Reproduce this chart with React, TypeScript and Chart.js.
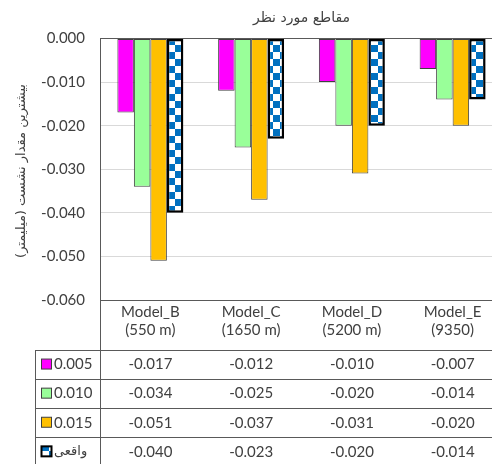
import React, { useEffect, useRef } from "react";
import { Chart, registerables } from "chart.js";

Chart.register(...registerables);

const chartTitle = "مقاطع مورد نظر";
const yAxisTitle = "بیشترین مقدار نشست (میلیمتر)\u200F";
const categories = [
  ["Model_B", "(550 m)"],
  ["Model_C", "(1650 m)"],
  ["Model_D", "(5200 m)"],
  ["Model_E", "(9350)"],
];
const seriesNames = ["0.005", "0.010", "0.015", "واقعی"];
const s005 = [-0.017, -0.012, -0.01, -0.007];
const s010 = [-0.034, -0.025, -0.02, -0.014];
const s015 = [-0.051, -0.037, -0.031, -0.02];
const sReal = [-0.04, -0.023, -0.02, -0.014];
const yMin = -0.06;
const yMax = 0;
const yStep = 0.01;

const FONT = "Lato, 'DejaVu Sans', sans-serif";
const PFONT = "'DejaVu Sans', sans-serif";

function makeChecker(): CanvasPattern | string {
  const cell = 7;
  const c = document.createElement("canvas");
  c.width = cell * 2;
  c.height = cell * 2;
  const g = c.getContext("2d");
  if (!g) return "#0070C0";
  g.fillStyle = "#ffffff";
  g.fillRect(0, 0, cell * 2, cell * 2);
  g.fillStyle = "#0070C0";
  g.fillRect(0, 0, cell, cell);
  g.fillRect(cell, cell, cell, cell);
  const p = g.createPattern(c, "repeat");
  if (p && typeof DOMMatrix !== "undefined") {
    try {
      p.setTransform(new DOMMatrix().translate(0, 38));
    } catch (e) {}
  }
  return p || "#0070C0";
}

export default function App() {
  const ref = useRef<HTMLCanvasElement | null>(null);

  useEffect(() => {
    const canvas = ref.current;
    if (!canvas) return;
    const checker = makeChecker();
    const fills: any[] = ["#FF00FF", "#99FF99", "#FFC000", checker];
    const borders = ["#404040", "#404040", "#404040", "#000000"];
    const bw = [1, 1, 1, 2.5];
    const seriesData = [s005, s010, s015, sReal];

    const tablePlugin = {
      id: "extras",
      afterDraw(chart: any) {
        const ctx = chart.ctx as CanvasRenderingContext2D;
        const area = chart.chartArea;
        const xs = chart.scales.x;
        const W = chart.width;
        const H = chart.height;
        ctx.save();
        // title
        ctx.fillStyle = "#404040";
        ctx.font = `14px ${PFONT}`;
        ctx.textAlign = "center";
        ctx.textBaseline = "middle";
        (ctx as any).direction = "rtl";
        ctx.fillText(chartTitle, (area.left + area.right) / 2, 18);
        // y title
        ctx.save();
        ctx.translate(22, 171);
        ctx.rotate(-Math.PI / 2);
        ctx.font = `13px ${PFONT}`;
        ctx.fillStyle = "#404040";
        ctx.fillText(yAxisTitle, 0, 0);
        ctx.restore();
        (ctx as any).direction = "ltr";

        // table
        const tableTop = xs.bottom;
        const rowH = (H - tableTop) / 4 + 0.6;
        const legendLeft = 35.5;
        ctx.strokeStyle = "#595959";
        ctx.lineWidth = 1;
        ctx.beginPath();
        for (let r = 0; r < 4; r++) {
          const y = Math.round(tableTop + r * rowH) + 0.5;
          ctx.moveTo(legendLeft, y);
          ctx.lineTo(W, y);
        }
        ctx.moveTo(legendLeft, tableTop);
        ctx.lineTo(legendLeft, H);
        ctx.moveTo(area.left + 0.5, area.bottom);
        ctx.lineTo(area.left + 0.5, H);
        ctx.stroke();

        ctx.font = `15px ${FONT}`;
        ctx.textBaseline = "middle";
        for (let r = 0; r < 4; r++) {
          const cy = tableTop + r * rowH + rowH / 2;
          // legend key
          ctx.fillStyle = fills[r];
          ctx.fillRect(41.5, cy - 5.5, 10, 10);
          ctx.strokeStyle = borders[r];
          ctx.lineWidth = r === 3 ? 2 : 1;
          ctx.strokeRect(41.5, cy - 5.5, 10, 10);
          ctx.fillStyle = "#404040";
          ctx.textAlign = "left";
          if (r === 3) {
            ctx.font = `13px ${PFONT}`;
            ctx.fillText(seriesNames[r], 54, cy);
            ctx.font = `15px ${FONT}`;
          } else {
            ctx.fillText(seriesNames[r], 54, cy);
          }
          ctx.textAlign = "center";
          const vals = seriesData[r];
          for (let i = 0; i < vals.length; i++) {
            const x = xs.getPixelForValue(i);
            ctx.fillText(vals[i].toFixed(3), x, cy);
          }
        }
        ctx.restore();
      },
    };

    const chart = new Chart(canvas, {
      type: "bar",
      data: {
        labels: categories as any,
        datasets: seriesNames.map((name, i) => ({
          label: name,
          data: seriesData[i],
          backgroundColor: fills[i],
          borderColor: borders[i],
          borderWidth: bw[i],
          borderSkipped: false,
          barPercentage: 1,
          categoryPercentage: 0.655,
        })),
      },
      options: {
        responsive: false,
        animation: false,
        layout: { padding: { top: 38.5, bottom: 114, right: 2, left: 0 } },
        plugins: {
          legend: { display: false },
          title: { display: false },
          tooltip: { enabled: false },
        },
        scales: {
          x: {
            position: "bottom",
            grid: { display: false, drawTicks: false },
            border: { display: true, color: "#595959", width: 1 },
            ticks: {
              color: "#404040",
              font: { family: FONT, size: 15, lineHeight: 1.2 },
              padding: 3,
              maxRotation: 0,
              autoSkip: false,
            },
            afterFit(scale: any) {
              scale.height = 50;
            },
          },
          y: {
            min: yMin,
            max: yMax,
            grid: {
              drawTicks: false,
              color: (c: any) =>
                c.tick && (Math.abs(c.tick.value) < 1e-9 || Math.abs(c.tick.value - yMin) < 1e-9)
                  ? "#595959"
                  : "#D9D9D9",
              lineWidth: 1,
            },
            border: { display: true, color: "#595959", width: 1 },
            ticks: {
              stepSize: yStep,
              color: "#404040",
              padding: 15,
              font: { family: FONT, size: 15 },
              callback: (v: any) => {
                const n = Number(v);
                return (Math.abs(n) < 1e-9 ? 0 : n).toFixed(3);
              },
            },
            afterFit(scale: any) {
              scale.width = 100;
            },
          },
        },
      },
      plugins: [tablePlugin],
    });
    return () => chart.destroy();
  }, []);

  return (
    <div
      style={{
        position: "fixed",
        left: 0,
        top: 0,
        width: 492,
        height: 464,
        overflow: "hidden",
        background: "#ffffff",
      }}
    >
      <canvas ref={ref} width={505} height={464} style={{ width: 505, height: 464, display: "block" }} />
    </div>
  );
}
